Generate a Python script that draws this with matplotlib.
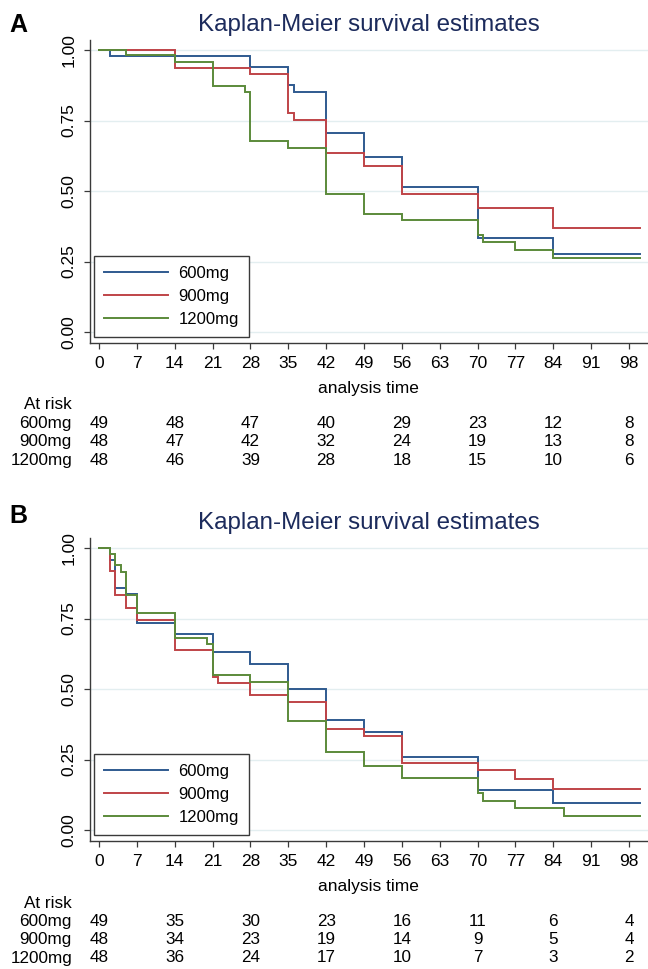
import matplotlib
matplotlib.use('Agg')
import matplotlib.pyplot as plt
from matplotlib.transforms import blended_transform_factory

plt.rcParams['font.family'] = ['Liberation Sans', 'DejaVu Sans']

# ---------------- data ----------------
groups = ['600mg', '900mg', '1200mg']
colors = ['#2f5a8f', '#bf4448', '#5b8a3a']

# Panel A survival steps (time, survival)
a_600_t = [0, 2, 28, 35, 36, 42, 49, 56, 70, 84, 100]
a_600_s = [1.0, 0.980, 0.939, 0.876, 0.852, 0.705, 0.619, 0.513, 0.333, 0.277, 0.277]
a_900_t = [0, 14, 28, 35, 36, 42, 49, 56, 70, 84, 100]
a_900_s = [1.0, 0.935, 0.915, 0.777, 0.753, 0.636, 0.589, 0.489, 0.439, 0.370, 0.370]
a_1200_t = [0, 5, 14, 21, 27, 28, 35, 42, 49, 56, 70, 71, 77, 84, 100]
a_1200_s = [1.0, 0.981, 0.957, 0.874, 0.852, 0.677, 0.654, 0.490, 0.420, 0.396,
            0.344, 0.318, 0.291, 0.261, 0.261]

# Panel B survival steps
b_600_t = [0, 2, 3, 5, 7, 14, 21, 28, 35, 42, 49, 56, 70, 84, 100]
b_600_s = [1.0, 0.958, 0.859, 0.838, 0.735, 0.695, 0.632, 0.589, 0.499, 0.390,
           0.349, 0.260, 0.142, 0.095, 0.095]
b_900_t = [0, 2, 3, 5, 7, 14, 21, 22, 28, 35, 42, 49, 56, 70, 77, 84, 100]
b_900_s = [1.0, 0.917, 0.833, 0.786, 0.745, 0.637, 0.544, 0.523, 0.477, 0.455,
           0.357, 0.333, 0.239, 0.211, 0.181, 0.146, 0.146]
b_1200_t = [0, 2, 3, 4, 5, 7, 14, 20, 21, 28, 35, 42, 49, 56, 70, 71, 77, 86, 100]
b_1200_s = [1.0, 0.979, 0.938, 0.916, 0.832, 0.768, 0.681, 0.660, 0.550, 0.526,
            0.388, 0.275, 0.228, 0.184, 0.130, 0.103, 0.079, 0.051, 0.051]

x_ticks = [0, 7, 14, 21, 28, 35, 42, 49, 56, 63, 70, 77, 84, 91, 98]
y_ticks = [0.0, 0.25, 0.5, 0.75, 1.0]
y_ticklabels = ['0.00', '0.25', '0.50', '0.75', '1.00']

risk_times = [0, 14, 28, 42, 56, 70, 84, 98]
a_risk_600 = [49, 48, 47, 40, 29, 23, 12, 8]
a_risk_900 = [48, 47, 42, 32, 24, 19, 13, 8]
a_risk_1200 = [48, 46, 39, 28, 18, 15, 10, 6]
b_risk_600 = [49, 35, 30, 23, 16, 11, 6, 4]
b_risk_900 = [48, 34, 23, 19, 14, 9, 5, 4]
b_risk_1200 = [48, 36, 24, 17, 10, 7, 3, 2]

title_text = 'Kaplan-Meier survival estimates'
xlabel_text = 'analysis time'

# ---------------- layout ----------------
W, H = 648, 969
fig = plt.figure(figsize=(W / 100, H / 100), dpi=100)
fig.patch.set_facecolor('white')

def fx(px):
    return px / W

def fy(py):
    return 1 - py / H

AX_L, AX_R = 89.5, 648.0
AX_T, AX_B = 40.0, 342.7
Y0_PX, Y1_PX = 332.0, 50.0          # pixel rows of 0.00 and 1.00 in panel A
PX0, PX_PER_DAY = 99.0, 5.408        # pixel column of t=0, pixels per day

title_col = '#1c2b5c'
axis_col = '#3a3a3a'
grid_col = '#e3eef0'


def draw_panel(letter, off, curves, risks, letter_base):
    ax = fig.add_axes([fx(AX_L), fy(AX_B + off), fx(AX_R - AX_L),
                       (AX_B - AX_T) / H])
    per = (Y0_PX - Y1_PX)
    ax.set_ylim((Y0_PX - AX_B) / per, (Y0_PX - AX_T) / per)
    ax.set_xlim((AX_L - PX0) / PX_PER_DAY, (AX_R - PX0) / PX_PER_DAY)
    for (t, s), c, g in zip(curves, colors, groups):
        ax.step(t, s, where='post', color=c, lw=1.4, label=g,
                solid_joinstyle='miter')
    ax.set_yticks(y_ticks)
    ax.set_yticklabels(y_ticklabels, rotation=90, va='center')
    ax.set_xticks(x_ticks)
    ax.set_xticklabels([str(v) for v in x_ticks])
    ax.tick_params(axis='both', direction='out', length=4.3, width=0.9,
                   color=axis_col, labelsize=12.5, labelcolor='black')
    ax.tick_params(axis='x', pad=5.5)
    ax.tick_params(axis='y', pad=5.0)
    for sp in ['top', 'right']:
        ax.spines[sp].set_visible(False)
    for sp in ['left', 'bottom']:
        ax.spines[sp].set_color(axis_col)
        ax.spines[sp].set_linewidth(1.0)
    ax.grid(axis='y', color=grid_col, lw=1.0)
    ax.set_axisbelow(True)

    leg = ax.legend(loc='lower left',
                    bbox_to_anchor=((94 - AX_L) / (AX_R - AX_L),
                                    (AX_B - 337) / (AX_B - AX_T)),
                    borderaxespad=0, fontsize=12, handlelength=3.85,
                    handletextpad=0.62, labelspacing=0.48, borderpad=0.6,
                    fancybox=False, framealpha=1, edgecolor=axis_col)
    leg.get_frame().set_linewidth(1.0)

    # titles and letters
    fig.text(fx((AX_L + AX_R) / 2), fy(30.7 + off), title_text, ha='center',
             va='baseline', fontsize=17.4, color=title_col)
    fig.text(fx(9), fy(letter_base), letter, ha='left', va='baseline',
             fontsize=18, fontweight='bold', color='black')
    fig.text(fx((AX_L + AX_R) / 2), fy(388 + off), xlabel_text, ha='center',
             va='center', fontsize=12.5)

    # at-risk table
    tr = blended_transform_factory(ax.transData, fig.transFigure)
    fig.text(fx(72), fy(405 + off), 'At risk', ha='right', va='center',
             fontsize=12.3)
    rows_y = [423.3, 441.7, 460.0]
    for g, r, yy in zip(groups, risks, rows_y):
        fig.text(fx(72), fy(yy + off), g, ha='right', va='center',
                 fontsize=12.3)
        for t, n in zip(risk_times, r):
            ax.text(t, fy(yy + off), str(n), transform=tr, ha='center',
                    va='center', fontsize=12.3, clip_on=False)
    return ax


draw_panel('A', 0,
           [(a_600_t, a_600_s), (a_900_t, a_900_s), (a_1200_t, a_1200_s)],
           [a_risk_600, a_risk_900, a_risk_1200], 31.7)
draw_panel('B', 498,
           [(b_600_t, b_600_s), (b_900_t, b_900_s), (b_1200_t, b_1200_s)],
           [b_risk_600, b_risk_900, b_risk_1200], 522.7)

fig.savefig('out.png', dpi=100, facecolor='white')
